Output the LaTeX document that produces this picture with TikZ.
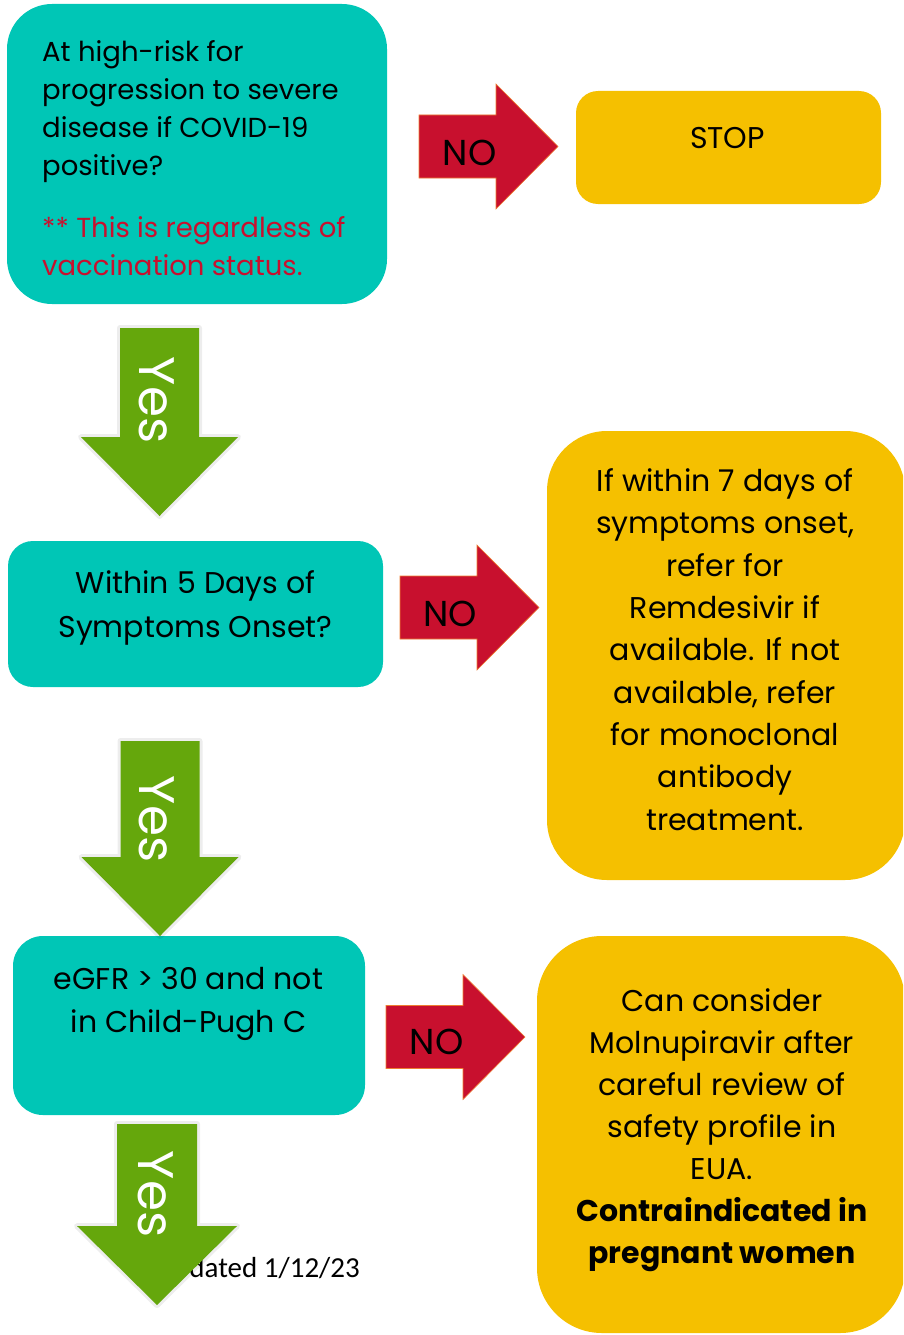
\documentclass[tikz,border=0pt]{standalone}
\usepackage{fontspec}
\setmainfont{Poppins}
\newfontfamily\stampfont{Carlito}
\usepackage{xcolor}
\definecolor{ColAsk}{RGB}{0,198,182}
\definecolor{ColAct}{RGB}{245,192,0}
\definecolor{ColNo}{RGB}{200,16,46}
\definecolor{ColNoEdge}{RGB}{237,125,49}
\definecolor{ColYes}{RGB}{101,167,12}
\usepackage{tikz}
\tikzstyle{Ask}=[rectangle,fill=ColAsk,inner sep=0pt]
\tikzstyle{Act}=[rectangle,fill=ColAct,inner sep=0pt]
\tikzstyle{NoArrow}=[fill=ColNo,draw=ColNoEdge,line width=.6pt]
\tikzstyle{YesArrow}=[fill=ColYes]
\tikzstyle{YesHalo}=[draw=black,line width=6pt,opacity=.07,line join=round]
\tikzstyle{BoxText}=[font=\fontsize{30}{42.3}\selectfont,align=center,
inner sep=0pt]
\tikzstyle{NoText}=[font=\fontsize{36}{40}\selectfont,inner sep=0pt]
\tikzstyle{YesText}=[font=\fontsize{50}{50}\selectfont,text=white,
rotate=-90,inner sep=0pt]

\begin{document}
\begin{tikzpicture}[x=1pt,y=-1pt]
        \useasboundingbox(0,0)rectangle(903,1335);
        \clip(0,0)rectangle(903,1335);
        % boxes
        \node[Ask,rounded corners=45,minimum width=380,minimum height=300]
            (risk)at(197,154){};
        \node[Act,rounded corners=22,minimum width=305,minimum height=113]
            (stop)at(728.5,147.5){};
        \node[Ask,rounded corners=25,minimum width=375,minimum height=146]
            (days)at(195.5,614){};
        \node[Act,rounded corners=60,minimum width=358,minimum height=449]
            (remd)at(726,655.5){};
        \node[Ask,rounded corners=30,minimum width=352,minimum height=179]
            (egfr)at(189,1025.5){};
        \node[Act,rounded corners=65,minimum width=368,minimum height=397]
            (moln)at(721,1134.5){};
        % texts (anchor base = last line)
        \node[BoxText,align=left,anchor=base west,
            font=\fontsize{27.5}{38}\selectfont](riskTxt)at(42,175)
            {At high-risk for\\progression to severe\\
            disease if COVID-19\\positive?};
        \node[BoxText,align=left,anchor=base west,text=ColNo,
            font=\fontsize{27.5}{38}\selectfont](riskNote)at(42,275)
            {** This is regardless of\\vaccination status.};
        \node[BoxText](stopTxt)at(727.5,138.5){STOP};
        \node[BoxText,anchor=base,font=\fontsize{30}{44}\selectfont]
            (daysTxt)at(195.5,637){Within 5 Days of\\Symptoms Onset?};
        \node[BoxText,anchor=base](remdTxt)at(725,830)
            {If within 7 days of\\symptoms onset,\\refer for\\
            Remdesivir if\\available. If not\\available, refer\\
            for monoclonal\\antibody\\treatment.};
        \node[BoxText,anchor=base](egfrTxt)at(188.5,1032)
            {eGFR > 30 and not\\in Child-Pugh C};
        \node[BoxText,anchor=base,font=\fontsize{30}{42}\selectfont]
            (molnTxt)at(722,1263)
            {Can consider\\Molnupiravir after\\careful review of\\
            safety profile in\\EUA.\\
            \textbf{Contraindicated in}\\\textbf{pregnant women}};
        \node[anchor=base east,inner sep=0pt,
            font=\stampfont\fontsize{29}{32}\selectfont]
            (stamp)at(360,1277){Updated 1/12/23};
        % no arrows
        \coordinate(no1)at(419,146.5);
        \coordinate(no2)at(400,607.5);
        \coordinate(no3)at(386,1037);
        \draw[NoArrow](no1)++(0,-31.5)--++(77,0)--++(0,-31)--++(62,62.5)
            --++(-62,62.5)--++(0,-31)--++(-77,0)--cycle;
        \draw[NoArrow](no2)++(0,-31.5)--++(77,0)--++(0,-31)--++(62,62.5)
            --++(-62,62.5)--++(0,-31)--++(-77,0)--cycle;
        \draw[NoArrow](no3)++(0,-31.5)--++(77,0)--++(0,-31)--++(62,62.5)
            --++(-62,62.5)--++(0,-31)--++(-77,0)--cycle;
        \node[NoText](no1Txt)at(469.5,152.5){NO};
        \node[NoText](no2Txt)at(450,613.5){NO};
        \node[NoText](no3Txt)at(436.5,1041.5){NO};
        % yes arrows
        \coordinate(yes1)at(159.5,328);
        \coordinate(yes2)at(160,741);
        \coordinate(yes3)at(157,1124);
        \path[YesHalo](yes1)++(-39.5,0)--++(79,0)--++(0,109)--++(39,0)
            --++(-78.5,79)--++(-78.5,-79)--++(39,0)--cycle;
        \fill[YesArrow](yes1)++(-39.5,0)--++(79,0)--++(0,109)--++(39,0)
            --++(-78.5,79)--++(-78.5,-79)--++(39,0)--cycle;
        \path[YesHalo](yes2)++(-39.5,0)--++(79,0)--++(0,116)--++(39,0)
            --++(-78.5,79)--++(-78.5,-79)--++(39,0)--cycle;
        \fill[YesArrow](yes2)++(-39.5,0)--++(79,0)--++(0,116)--++(39,0)
            --++(-78.5,79)--++(-78.5,-79)--++(39,0)--cycle;
        \path[YesHalo](yes3)++(-40,0)--++(80,0)--++(0,102)--++(40,0)
            --++(-80,79)--++(-80,-79)--++(40,0)--cycle;
        \fill[YesArrow](yes3)++(-40,0)--++(80,0)--++(0,102)--++(40,0)
            --++(-80,79)--++(-80,-79)--++(40,0)--cycle;
        \node[YesText](yes1Txt)at(157,400){Yes};
        \node[YesText](yes2Txt)at(157,819){Yes};
        \node[YesText](yes3Txt)at(156,1194){Yes};
    \end{tikzpicture}
\end{document}
